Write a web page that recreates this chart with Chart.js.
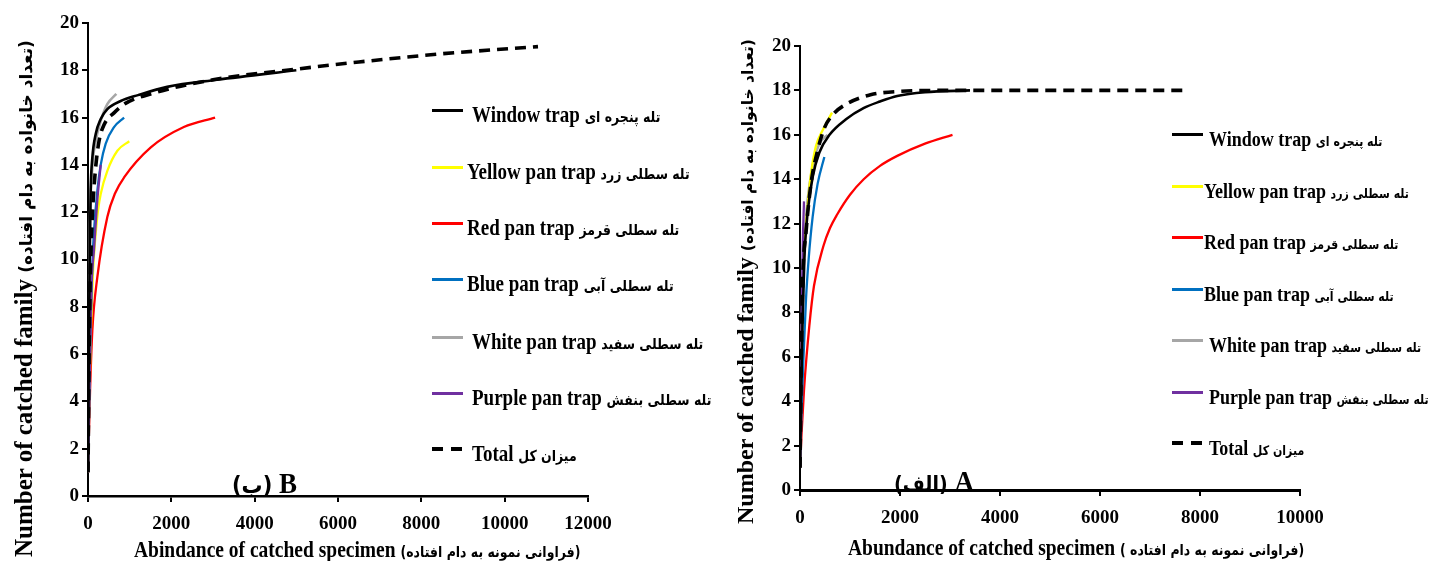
<!DOCTYPE html>
<html><head><meta charset="utf-8">
<script src="https://cdn.jsdelivr.net/npm/chart.js@4.4.1/dist/chart.umd.min.js"></script>
<style>
html,body{margin:0;padding:0;background:#fff;}
#wrap{position:relative;width:1431px;height:561px;overflow:hidden;background:#fff;}
canvas{position:absolute;top:0;}
.t{position:absolute;white-space:nowrap;font-family:'Liberation Serif','Times New Roman',serif;font-weight:bold;color:#000;}
.fa{font-family:'DejaVu Sans',sans-serif;font-weight:bold;}
.sw{position:absolute;}
</style></head>
<body><div id="wrap">
<canvas id="cB" width="700" height="561" style="left:0px"></canvas>
<canvas id="cA" width="731" height="561" style="left:700px"></canvas>
</div>
<script>
// ---------- categories / labels ----------
const seriesEn = ['Window trap','Yellow pan trap','Red pan trap','Blue pan trap','White pan trap','Purple pan trap','Total'];
const seriesFa = ['تله پنجره ای','تله سطلی زرد','تله سطلی قرمز','تله سطلی آبی','تله سطلی سفید','تله سطلی بنفش','میزان کل'];
const xTicksB = [0,2000,4000,6000,8000,10000,12000];
const xTicksA = [0,2000,4000,6000,8000,10000];
const yTicks = [0,2,4,6,8,10,12,14,16,18,20];

// ---------- Panel B (left) ----------
const bWindowX = [1,15,40,64,104,184,305,464,785,1200,1900,3100,5000];
const bWindowY = [1,5,10,12.9,14.3,15.3,15.94,16.36,16.7,16.95,17.3,17.6,18];
const bYellowX = [1,30,70,120,180,240,305,464,705,990];
const bYellowY = [1,4,7,9.5,11,12.07,12.77,13.75,14.6,15];
const bRedX = [1,20,50,104,224,464,650,866,1507,2300,3050];
const bRedY = [1,2.5,4.5,7,9.25,11.8,12.8,13.47,14.74,15.6,16];
const bBlueX = [1,30,60,104,144,224,305,425,625,866];
const bBlueY = [1,4,7,9.8,11.2,12.9,14,14.9,15.6,16];
const bWhiteX = [1,15,48,104,184,305,464,680];
const bWhiteY = [1,6,11.5,13.9,15,15.86,16.57,17];
const bPurpleX = [1,30,80,144,224,305];
const bPurpleY = [1,4,8.7,10.4,12.5,14];
const bTotalX = [1,20,48,80,128,184,264,385,625,900,1500,3000,5000,6500,8500,10800];
const bTotalY = [1,5,8.7,10.8,12.6,13.9,15,15.7,16.2,16.6,17,17.6,18.05,18.35,18.7,19];

// ---------- Panel A (right) ----------
const aWindowX = [1,20,50,87,153,253,387,590,920,1270,1600,1945,2500,3400];
const aWindowY = [1,4,7.5,10.4,12.5,14.1,15.2,16.0,16.7,17.2,17.5,17.75,17.92,18];
const aYellowX = [1,20,50,87,153,220,320,453,640];
const aYellowY = [1,5,8.5,10.8,12.8,14.26,15.5,16.2,17];
const aRedX = [1,30,80,187,280,470,600,740,1000,1274,1600,1945,2500,3050];
const aRedY = [1,2.5,4.5,7.4,9.2,11.0,11.8,12.4,13.3,14.0,14.6,15.05,15.6,16];
const aBlueX = [1,30,70,120,173,253,353,487];
const aBlueY = [1,3.5,6,8.6,10.4,12.3,13.8,15];
const aWhiteX = [1,20,50,100,150,253,387,553];
const aWhiteY = [1,5,9,11.5,13,14.6,15.6,16];
const aPurpleX = [1,15,35,55,80];
const aPurpleY = [1,4,8,11,13];
const aTotalX = [1,15,53,120,220,353,487,653,940,1410,1945,3000,7700];
const aTotalY = [1,4,9.3,11.6,13.8,15.3,16.3,16.9,17.4,17.8,17.95,18,18];

// ---------- styles ----------
const colors = ['#000000','#ffff00','#ff0000','#0070c0','#a6a6a6','#7030a0','#000000'];
const widths = [2.6,2.3,2.3,2.3,2.6,2.3,3.6];
const drawOrder = [2,5,6,4,7,3,1];

function pts(xs, ys){ return xs.map((x,i)=>({x:x, y:ys[i]})); }

function makeChart(id, series, xTicks, xMax, L, R, T, B, W, H, xBorder){
  const datasets = series.map((s,i)=>({
    label: seriesEn[i],
    data: pts(s[0], s[1]),
    borderColor: colors[i],
    borderWidth: widths[i],
    borderDash: i===6 ? [11,7] : [],
    pointRadius: 0,
    fill: false,
    cubicInterpolationMode: 'monotone',
    order: drawOrder[i]
  }));
  const tickFont = {family:"'Liberation Serif','Times New Roman',serif", weight:'bold', size:19};
  return new Chart(document.getElementById(id), {
    type:'line',
    data:{datasets:datasets},
    options:{
      responsive:false, animation:false, devicePixelRatio:1,
      layout:{padding:{left:0, right:W-R, top:T, bottom:H-B-36}},
      plugins:{legend:{display:false}, tooltip:{enabled:false}},
      scales:{
        x:{type:'linear', min:0, max:xMax,
           afterBuildTicks:(sc)=>{ sc.ticks = xTicks.map(v=>({value:v})); },
           afterFit:(sc)=>{ sc.height = 36; },
           ticks:{color:'#000', font:tickFont, padding:11, maxRotation:0, autoSkip:false, callback:(v)=>String(v)},
           grid:{drawOnChartArea:false, drawTicks:true, tickLength:6, color:'#000', lineWidth:2},
           border:{display:true, color:'#000', width:xBorder}},
        y:{type:'linear', min:0, max:20,
           afterBuildTicks:(sc)=>{ sc.ticks = yTicks.map(v=>({value:v})); },
           afterFit:(sc)=>{ sc.width = L; },
           ticks:{color:'#000', font:tickFont, padding:3, autoSkip:false, callback:(v)=>String(v)},
           grid:{drawOnChartArea:false, drawTicks:true, tickLength:6, color:'#000', lineWidth:2},
           border:{display:true, color:'#000', width:2}}
      }
    }
  });
}

makeChart('cB', [[bWindowX,bWindowY],[bYellowX,bYellowY],[bRedX,bRedY],[bBlueX,bBlueY],[bWhiteX,bWhiteY],[bPurpleX,bPurpleY],[bTotalX,bTotalY]],
  xTicksB, 12000, 88, 588, 23, 496, 700, 561, 2.6);
makeChart('cA', [[aWindowX,aWindowY],[aYellowX,aYellowY],[aRedX,aRedY],[aBlueX,aBlueY],[aWhiteX,aWhiteY],[aPurpleX,aPurpleY],[aTotalX,aTotalY]],
  xTicksA, 10000, 100, 600, 46, 490, 731, 561, 3);

// ---------- HTML text: legends, titles, panel labels ----------
const wrap = document.getElementById('wrap');
function addText(html, left, top, size, extra){
  const d = document.createElement('div');
  d.className = 't';
  d.style.left = left+'px'; d.style.top = top+'px';
  d.style.fontSize = size+'px'; d.style.lineHeight = '26px';
  if (extra) Object.assign(d.style, extra);
  d.innerHTML = html;
  wrap.appendChild(d);
  return d;
}
function legend(lineX, rowsY, textX, enSize, faSize){
  seriesEn.forEach((name,i)=>{
    const y = rowsY[i];
    if (i===6){
      [0,19].forEach(off=>{
        const s = document.createElement('div'); s.className='sw';
        Object.assign(s.style,{left:(lineX+off)+'px', top:(y-2)+'px', width:'11px', height:'4px', background:'#000'});
        wrap.appendChild(s);
      });
    } else {
      const s = document.createElement('div'); s.className='sw';
      Object.assign(s.style,{left:lineX+'px', top:(y-1.5)+'px', width:'31px', height:'3px', background:colors[i]});
      wrap.appendChild(s);
    }
    addText(name+' <span class="fa" style="font-size:'+faSize+'px">'+seriesFa[i]+'</span>', textX[i], y+5-13, enSize, {transform:'scaleY(1.2)', transformOrigin:'left center'});
  });
}
legend(432, [110,167,223,279,337,393,449], [472,467,467,467,472,472,472], 19, 12.5);
legend(1172, [134,186,237,289,340,392,443], [1209,1204,1204,1204,1209,1209,1209], 18, 11);

// axis titles
addText('Number of catched family <span class="fa" style="font-size:17px">(تعداد خانواده به دام افتاده)</span>', 10, 557, 25, {transform:'rotate(-90deg)', transformOrigin:'left top', lineHeight:'28px'});
addText('Number of catched family <span class="fa" style="font-size:15.5px">(تعداد خانواده به دام افتاده)</span>', 731, 524, 24, {transform:'rotate(-90deg)', transformOrigin:'left top', lineHeight:'28px'});
addText('Abindance of catched specimen <span class="fa" style="font-size:12.5px">(فراوانی  نمونه به دام افتاده)</span>', 134, 537, 19.5, {transform:'scaleY(1.2)', transformOrigin:'left center'});
addText('Abundance of catched specimen <span class="fa" style="font-size:12.5px">( فراوانی  نمونه به دام افتاده)</span>', 848, 535, 19.5, {transform:'scaleY(1.2)', transformOrigin:'left center'});

// panel labels
addText('<span class="fa" style="font-size:21px">(ب)</span> B', 232, 470, 27, {transform:'scaleY(1.1)', transformOrigin:'left center'});
addText('<span class="fa" style="font-size:19px">(الف)</span> A', 894, 468, 27, {transform:'scaleY(1.1)', transformOrigin:'left center'});
</script>
</body></html>
